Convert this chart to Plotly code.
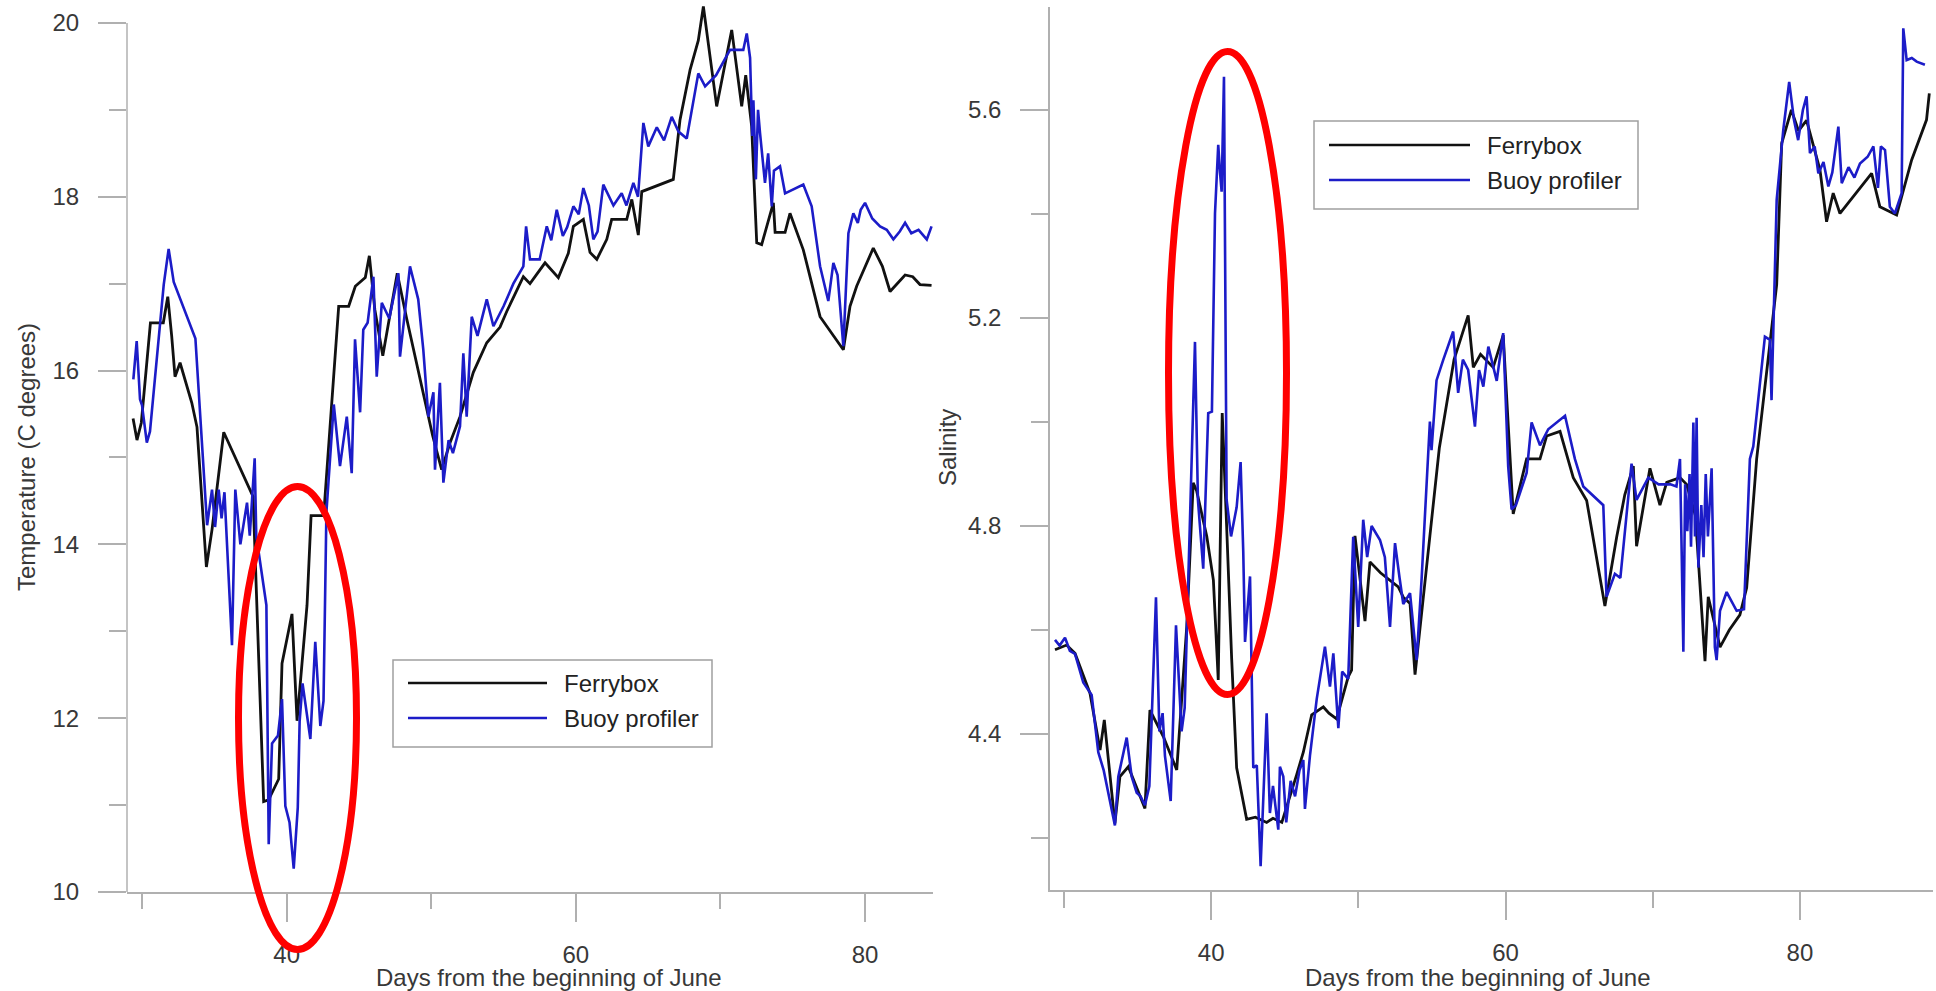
import plotly.graph_objects as go

W, H = 1936, 991

# ---------------- Temperature (left panel) ----------------
temp_ferry_day = [29.38, 29.65, 29.95, 30.58, 31.47, 31.78, 32.05, 32.28, 32.63, 33.44, 33.80, 34.45, 34.84,
                  35.65, 37.68, 38.41, 38.75, 39.45, 39.68, 40.37, 40.72, 41.41, 41.69, 42.56, 43.60, 44.29,
                  44.75, 45.44, 45.72, 46.10, 46.65, 47.65, 48.30, 49.45, 50.10, 50.72, 51.30, 51.99, 52.91,
                  53.84, 54.76, 55.22, 56.37, 56.83, 57.87, 58.79, 59.48, 59.83, 60.52, 60.98, 61.45, 62.14,
                  62.48, 63.52, 63.87, 64.32, 64.56, 66.74, 67.20, 67.90, 68.47, 68.82, 69.74, 70.78, 71.47,
                  71.75, 72.16, 72.51, 72.85, 73.66, 73.78, 74.47, 74.81, 75.73, 76.89, 78.50, 78.96, 79.42,
                  80.57, 81.20, 81.73, 82.77, 83.30, 83.80, 84.60]
temp_ferry_val = [15.45, 15.20, 15.40, 16.55, 16.55, 16.85, 16.40, 15.93, 16.09, 15.63, 15.35, 13.74, 14.17,
                  15.29, 14.55, 11.04, 11.06, 11.30, 12.63, 13.20, 11.97, 13.30, 14.33, 14.33, 16.74, 16.74,
                  16.97, 17.07, 17.32, 16.70, 16.17, 17.12, 16.60, 15.76, 15.25, 14.86, 15.17, 15.47, 15.98,
                  16.32, 16.50, 16.68, 17.08, 17.00, 17.24, 17.07, 17.35, 17.66, 17.74, 17.36, 17.28, 17.51,
                  17.74, 17.74, 17.97, 17.56, 18.06, 18.20, 18.88, 19.46, 19.80, 20.19, 19.04, 19.92, 19.04,
                  19.40, 18.81, 17.47, 17.45, 17.93, 17.59, 17.59, 17.81, 17.39, 16.62, 16.24, 16.74, 16.97,
                  17.41, 17.20, 16.91, 17.10, 17.08, 16.99, 16.98]

temp_buoy_day = [29.40, 29.63, 29.86, 30.00, 30.10, 30.33, 30.55, 31.50, 31.84, 32.19, 33.69, 34.50, 34.84,
                 35.05, 35.30, 35.50, 35.70, 36.22, 36.45, 36.80, 37.26, 37.45, 37.79, 37.90, 38.60, 38.76,
                 38.99, 39.40, 39.68, 39.91, 40.20, 40.49, 40.77, 40.90, 41.10, 41.64, 41.98, 42.33, 42.55,
                 42.75, 43.26, 43.69, 44.16, 44.50, 44.73, 45.08, 45.30, 45.60, 46.00, 46.23, 46.58, 47.10,
                 47.73, 47.84, 48.53, 49.10, 49.45, 49.80, 50.15, 50.26, 50.60, 50.84, 51.20, 51.50, 51.99,
                 52.22, 52.45, 52.80, 53.20, 53.84, 54.30, 55.00, 55.68, 56.37, 56.56, 56.83, 57.50, 57.99,
                 58.30, 58.68, 59.10, 59.40, 59.83, 60.20, 60.52, 60.90, 61.21, 61.50, 61.90, 62.60, 63.17,
                 63.50, 63.98, 64.30, 64.67, 65.01, 65.60, 66.10, 66.63, 67.10, 67.67, 68.13, 68.47, 68.94,
                 69.70, 70.66, 71.58, 71.82, 72.05, 72.20, 72.28, 72.45, 72.60, 72.74, 73.08, 73.30, 73.55,
                 73.70, 74.12, 74.47, 75.73, 76.31, 76.89, 77.46, 77.81, 78.10, 78.50, 78.85, 79.19, 79.50,
                 79.70, 80.00, 80.50, 81.04, 81.50, 81.96, 82.40, 82.77, 83.20, 83.70, 84.27, 84.60]
temp_buoy_val = [15.90, 16.34, 15.67, 15.60, 15.47, 15.17, 15.30, 16.99, 17.40, 17.02, 16.37, 14.22, 14.63,
                 14.20, 14.63, 14.30, 14.60, 12.84, 14.63, 14.00, 14.48, 14.10, 14.99, 14.10, 13.30, 10.55,
                 11.71, 11.80, 12.22, 10.99, 10.80, 10.27, 10.97, 11.97, 12.40, 11.76, 12.88, 11.91, 12.20,
                 14.37, 15.61, 14.90, 15.47, 14.82, 16.36, 15.52, 16.47, 16.55, 17.08, 15.93, 16.78, 16.60,
                 17.12, 16.16, 17.20, 16.82, 16.24, 15.47, 15.75, 14.86, 15.86, 14.71, 15.20, 15.05, 15.36,
                 16.20, 15.47, 16.62, 16.40, 16.82, 16.51, 16.74, 17.00, 17.20, 17.66, 17.28, 17.28, 17.66,
                 17.50, 17.85, 17.55, 17.65, 17.89, 17.80, 18.10, 17.90, 17.51, 17.60, 18.14, 17.90, 18.04,
                 17.90, 18.16, 18.00, 18.85, 18.58, 18.80, 18.65, 18.92, 18.75, 18.67, 19.11, 19.42, 19.27,
                 19.40, 19.69, 19.69, 19.88, 19.60, 18.70, 19.11, 18.20, 19.00, 18.73, 18.16, 18.50, 17.89,
                 18.30, 18.35, 18.04, 18.14, 17.89, 17.20, 16.80, 17.24, 17.10, 16.28, 17.58, 17.81, 17.70,
                 17.85, 17.93, 17.75, 17.66, 17.62, 17.51, 17.60, 17.70, 17.58, 17.62, 17.51, 17.66]

# ---------------- Salinity (right panel) ----------------
sal_ferry_day = [29.39, 30.18, 30.75, 31.77, 32.45, 32.74, 33.46, 33.80, 34.37, 35.50, 35.84, 36.75, 37.66,
                 38.34, 38.78, 39.01, 39.70, 40.15, 40.48, 40.75, 41.05, 41.39, 41.73, 42.41, 43.00, 43.77,
                 44.20, 44.80, 45.81, 46.26, 46.83, 47.62, 48.00, 48.52, 49.31, 49.54, 49.77, 50.10, 50.45,
                 50.79, 51.50, 52.71, 53.05, 53.51, 53.85, 54.86, 55.50, 56.50, 57.46, 57.81, 58.30, 59.16,
                 59.84, 60.52, 61.43, 62.34, 62.79, 63.70, 64.60, 65.51, 66.75, 67.55, 68.10, 68.68, 68.90,
                 69.81, 70.49, 70.95, 71.85, 72.30, 72.90, 73.55, 73.77, 74.57, 75.20, 75.92, 76.38, 77.06,
                 78.42, 78.76, 79.42, 79.90, 80.45, 81.36, 81.81, 82.26, 82.72, 84.87, 85.43, 86.57, 87.59,
                 88.60, 88.79]
sal_ferry_val = [4.562, 4.571, 4.555, 4.478, 4.369, 4.427, 4.228, 4.318, 4.337, 4.257, 4.446, 4.395, 4.331,
                 4.606, 4.883, 4.868, 4.780, 4.696, 4.504, 5.017, 4.800, 4.546, 4.335, 4.236, 4.240, 4.230,
                 4.238, 4.230, 4.322, 4.365, 4.437, 4.452, 4.440, 4.429, 4.510, 4.523, 4.781, 4.700, 4.617,
                 4.731, 4.710, 4.683, 4.663, 4.651, 4.514, 4.781, 4.950, 5.120, 5.205, 5.105, 5.130, 5.105,
                 5.167, 4.823, 4.929, 4.929, 4.973, 4.982, 4.893, 4.849, 4.646, 4.779, 4.860, 4.915, 4.761,
                 4.911, 4.840, 4.884, 4.893, 4.880, 4.820, 4.540, 4.664, 4.567, 4.600, 4.629, 4.681, 4.929,
                 5.264, 5.536, 5.600, 5.560, 5.580, 5.485, 5.385, 5.440, 5.401, 5.478, 5.414, 5.398, 5.504,
                 5.581, 5.632]

sal_buoy_day = [29.39, 29.70, 30.07, 30.40, 30.75, 31.31, 31.88, 32.33, 32.70, 33.46, 33.69, 34.26, 34.60,
                34.94, 35.20, 35.50, 35.80, 36.25, 36.48, 36.70, 36.86, 37.25, 37.61, 37.99, 38.20, 38.51,
                38.90, 39.10, 39.46, 39.80, 40.05, 40.26, 40.48, 40.60, 40.71, 40.87, 41.05, 41.35, 41.73,
                42.00, 42.18, 42.30, 42.64, 42.86, 43.10, 43.36, 43.77, 43.99, 44.20, 44.56, 44.67, 44.90,
                45.10, 45.40, 45.70, 46.00, 46.26, 46.37, 46.71, 47.17, 47.73, 48.07, 48.30, 48.64, 48.90,
                49.31, 49.65, 49.99, 50.33, 50.60, 50.90, 51.47, 51.80, 52.15, 52.49, 52.80, 53.05, 53.51,
                53.96, 54.30, 54.86, 54.97, 55.31, 55.76, 56.44, 56.78, 57.10, 57.46, 57.92, 58.20, 58.49,
                58.83, 59.40, 59.84, 60.18, 60.41, 60.70, 61.43, 61.77, 62.34, 62.90, 64.04, 64.71, 65.28,
                65.96, 66.64, 66.86, 67.43, 67.80, 68.34, 68.56, 68.90, 69.70, 70.40, 71.20, 71.61, 71.85,
                71.97, 72.08, 72.20, 72.35, 72.50, 72.60, 72.76, 72.87, 72.98, 73.10, 73.30, 73.45, 73.60,
                73.75, 74.00, 74.10, 74.22, 74.34, 74.57, 75.02, 75.70, 76.20, 76.60, 76.83, 77.62, 77.96,
                78.07, 78.42, 78.87, 79.27, 79.60, 79.88, 80.20, 80.45, 80.68, 81.00, 81.25, 81.60, 81.93,
                82.20, 82.61, 82.84, 83.30, 83.70, 84.08, 84.60, 84.99, 85.30, 85.50, 85.78, 86.11, 86.45,
                86.91, 87.02, 87.25, 87.60, 87.93, 88.49]
sal_buoy_val = [4.581, 4.570, 4.585, 4.560, 4.554, 4.499, 4.475, 4.365, 4.330, 4.224, 4.318, 4.393, 4.318,
                4.287, 4.280, 4.263, 4.300, 4.663, 4.405, 4.440, 4.358, 4.271, 4.609, 4.405, 4.450, 4.781,
                5.154, 4.850, 4.718, 5.017, 5.020, 5.401, 5.533, 5.480, 5.443, 5.664, 4.850, 4.780, 4.836,
                4.923, 4.750, 4.577, 4.703, 4.335, 4.340, 4.146, 4.440, 4.248, 4.300, 4.216, 4.337, 4.318,
                4.230, 4.310, 4.280, 4.330, 4.350, 4.256, 4.358, 4.467, 4.568, 4.491, 4.555, 4.411, 4.520,
                4.506, 4.779, 4.606, 4.812, 4.740, 4.800, 4.773, 4.740, 4.606, 4.767, 4.700, 4.650, 4.671,
                4.542, 4.700, 5.001, 4.946, 5.080, 5.119, 5.174, 5.056, 5.120, 5.100, 4.991, 5.100, 5.068,
                5.145, 5.079, 5.171, 4.914, 4.832, 4.840, 4.902, 4.999, 4.955, 4.986, 5.012, 4.929, 4.876,
                4.858, 4.840, 4.664, 4.708, 4.700, 4.849, 4.920, 4.850, 4.893, 4.880, 4.880, 4.876, 4.929,
                4.743, 4.558, 4.880, 4.790, 4.900, 4.760, 4.999, 4.780, 5.008, 4.720, 4.840, 4.740, 4.900,
                4.780, 4.911, 4.760, 4.567, 4.542, 4.637, 4.673, 4.637, 4.640, 4.929, 4.953, 5.164, 5.158,
                5.042, 5.427, 5.562, 5.654, 5.580, 5.542, 5.600, 5.626, 5.517, 5.530, 5.478, 5.500, 5.453,
                5.480, 5.568, 5.459, 5.490, 5.470, 5.497, 5.510, 5.530, 5.450, 5.530, 5.523, 5.414, 5.401,
                5.440, 5.757, 5.696, 5.700, 5.693, 5.687]

series_names = ["Ferrybox", "Buoy profiler"]
temp_ticks = [10, 12, 14, 16, 18, 20]
temp_minor = [11, 13, 15, 17, 19]
sal_ticks = [4.4, 4.8, 5.2, 5.6]
sal_minor = [4.2, 4.6, 5.0, 5.4]
day_ticks = [40, 60, 80]
day_minor = [30, 50, 70]
x_title = "Days from the beginning of June"
y_titles = ["Temperature (C degrees)", "Salinity"]

# ---------------- styling ----------------
FONT = "Liberation Sans, Arial, sans-serif"
TXT = "#383838"
AX = "#b0b0b0"
BLACK = "#111111"
BLUE = "#1c1cc8"
FS = 24


def px(x):
    return x / W


def py(y):
    return 1 - y / H


fig = go.Figure()
fig.add_trace(go.Scatter(x=temp_ferry_day, y=temp_ferry_val, mode="lines", name=series_names[0],
                         line=dict(color=BLACK, width=2.8), xaxis="x", yaxis="y", showlegend=False))
fig.add_trace(go.Scatter(x=temp_buoy_day, y=temp_buoy_val, mode="lines", name=series_names[1],
                         line=dict(color=BLUE, width=2.6), xaxis="x", yaxis="y", showlegend=False))
fig.add_trace(go.Scatter(x=sal_ferry_day, y=sal_ferry_val, mode="lines", name=series_names[0],
                         line=dict(color=BLACK, width=2.8), xaxis="x2", yaxis="y2", showlegend=False))
fig.add_trace(go.Scatter(x=sal_buoy_day, y=sal_buoy_val, mode="lines", name=series_names[1],
                         line=dict(color=BLUE, width=2.6), xaxis="x2", yaxis="y2", showlegend=False))

common = dict(showgrid=False, zeroline=False, ticks="outside", tickcolor=AX, tickwidth=1.5,
              linecolor=AX, linewidth=1.5, automargin=False,
              tickfont=dict(family=FONT, size=FS, color=TXT))

fig.update_layout(
    width=W, height=H,
    margin=dict(l=0, r=0, t=0, b=0),
    paper_bgcolor="white", plot_bgcolor="white",
    showlegend=False,
    font=dict(family=FONT, size=FS, color=TXT),
    xaxis=dict(domain=[px(127), px(933)], range=[28.96, 84.7], anchor="y", showline=True,
               tickmode="array", tickvals=day_ticks, ticklen=28, ticklabelstandoff=12,
               minor=dict(tickmode="array", tickvals=day_minor, ticklen=15, tickcolor=AX, tickwidth=1.5),
               **common),
    yaxis=dict(domain=[py(892), py(1.25)], range=[10, 20.25], anchor="x", showline=False,
               tickmode="array", tickvals=temp_ticks, ticklen=28, ticklabelstandoff=14,
               minor=dict(tickmode="array", tickvals=temp_minor, ticklen=17, tickcolor=AX, tickwidth=1.5),
               **common),
    xaxis2=dict(domain=[px(1050), px(1933)], range=[29.05, 89.04], anchor="y2", showline=True,
                tickmode="array", tickvals=day_ticks, ticklen=28, ticklabelstandoff=12,
                minor=dict(tickmode="array", tickvals=day_minor, ticklen=16, tickcolor=AX, tickwidth=1.5),
                **common),
    yaxis2=dict(domain=[py(890), py(7)], range=[4.1, 5.798], anchor="x2", showline=True,
                tickmode="array", tickvals=sal_ticks, tickformat=".1f", ticklen=28, ticklabelstandoff=14,
                minor=dict(tickmode="array", tickvals=sal_minor, ticklen=17, tickcolor=AX, tickwidth=1.5),
                **common),
)

shapes = []
annotations = []

# left y-axis line (only from 10 to 20)
shapes.append(dict(type="line", xref="paper", yref="paper", x0=px(127), x1=px(127), y0=py(892), y1=py(23),
                   line=dict(color=AX, width=1.5)))

# axis titles
annotations += [
    dict(text=x_title, xref="paper", yref="paper", x=px(549), y=py(977), showarrow=False,
         xanchor="center", yanchor="middle", font=dict(family=FONT, size=FS, color=TXT)),
    dict(text=x_title, xref="paper", yref="paper", x=px(1478), y=py(977), showarrow=False,
         xanchor="center", yanchor="middle", font=dict(family=FONT, size=FS, color=TXT)),
    dict(text=y_titles[0], xref="paper", yref="paper", x=px(27), y=py(457), showarrow=False, textangle=-90,
         xanchor="center", yanchor="middle", font=dict(family=FONT, size=FS, color=TXT)),
    dict(text=y_titles[1], xref="paper", yref="paper", x=px(947), y=py(448), showarrow=False, textangle=-90,
         xanchor="center", yanchor="middle", font=dict(family=FONT, size=FS, color=TXT)),
]

# custom legends (box, line samples, labels)
legends = [
    dict(box=(393, 660, 712, 747), lines_x=(408, 547), ys=(683, 718), text_x=562),
    dict(box=(1314, 121, 1638, 209), lines_x=(1329, 1470), ys=(145, 180), text_x=1485),
]
for lg in legends:
    x0, y0, x1, y1 = lg["box"]
    shapes.append(dict(type="rect", xref="paper", yref="paper", x0=px(x0), x1=px(x1), y0=py(y1), y1=py(y0),
                       line=dict(color="#a0a0a0", width=1.5), fillcolor="white", layer="above"))
    for name, col, yy in zip(series_names, [BLACK, BLUE], lg["ys"]):
        shapes.append(dict(type="line", xref="paper", yref="paper", x0=px(lg["lines_x"][0]), x1=px(lg["lines_x"][1]),
                           y0=py(yy), y1=py(yy), line=dict(color=col, width=2.6), layer="above"))
        annotations.append(dict(text=name, xref="paper", yref="paper", x=px(lg["text_x"]), y=py(yy),
                                showarrow=False, xanchor="left", yanchor="middle",
                                font=dict(family=FONT, size=FS, color="#222222")))

# red highlight ellipses
for (ex0, ey0, ex1, ey1) in [(238.5, 486.5, 356.5, 949.5), (1168.5, 51.5, 1286.5, 694.5)]:
    shapes.append(dict(type="circle", xref="paper", yref="paper", x0=px(ex0), x1=px(ex1), y0=py(ey1), y1=py(ey0),
                       line=dict(color="#ff0000", width=7), layer="above"))

fig.update_layout(shapes=shapes, annotations=annotations)

fig.write_html("out.html", config={"displayModeBar": False},
               post_script="document.body.style.margin='0px';document.body.style.overflow='hidden';")
